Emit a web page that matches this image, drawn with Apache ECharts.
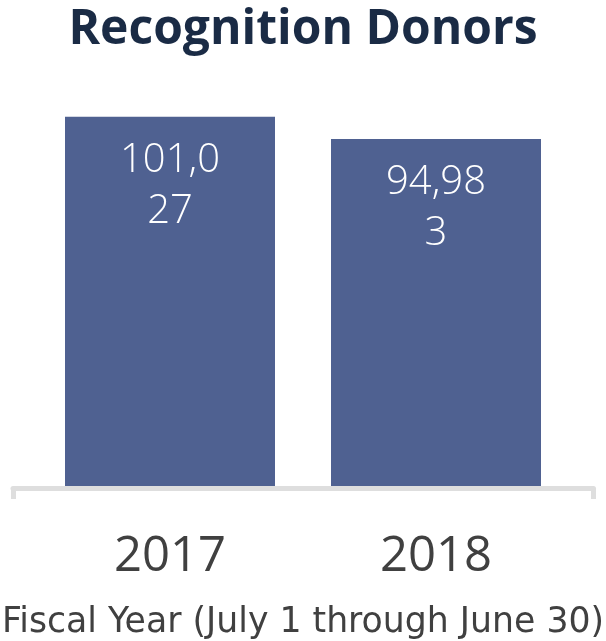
<!DOCTYPE html>
<html>
<head>
<meta charset="utf-8">
<script src="https://cdn.jsdelivr.net/npm/echarts@6/dist/echarts.min.js"></script>
<style>html,body{margin:0;padding:0;background:#fff}#c{width:606px;height:641px}</style>
</head>
<body>
<div id="c"></div>
<script>
var titleText = 'Recognition Donors';
var categories = ['2017', '2018'];
var donors = [101027, 94983];
var axisTitle = 'Fiscal Year (July 1 through June 30)';

var chart = echarts.init(document.getElementById('c'), null, {renderer: 'canvas'});
chart.setOption({
  animation: false,
  backgroundColor: '#ffffff',
  title: {
    text: titleText,
    left: 'center',
    top: 1,
    textStyle: {fontFamily: 'Open Sans', fontWeight: 'bold', fontSize: 48, color: '#1a2b45'}
  },
  grid: [
    {left: 37, right: 37, top: 84, bottom: 155, containLabel: false, outerBoundsMode: 'none'},
    {left: 13, right: 12.5, top: 84, bottom: 153, containLabel: false, outerBoundsMode: 'none'}
  ],
  xAxis: [
    {
      type: 'category', gridIndex: 0, data: categories,
      axisLine: {show: false}, axisTick: {show: false},
      axisLabel: {fontFamily: 'Open Sans', fontSize: 49, color: '#404040', margin: 47},
      name: axisTitle, nameLocation: 'middle', nameGap: 119,
      nameTextStyle: {fontFamily: 'DejaVu Sans', fontSize: 34.7, color: '#404040'}
    },
    {
      type: 'category', gridIndex: 1, data: categories,
      axisLine: {show: true, lineStyle: {color: '#dedede', width: 5}},
      axisTick: {show: true, length: 11, interval: function (i) { return i === 0; }, lineStyle: {color: '#dedede', width: 5}},
      axisLabel: {show: false}
    }
  ],
  yAxis: [
    {type: 'value', gridIndex: 0, min: 0, max: 110000, show: false},
    {type: 'value', gridIndex: 1, min: 0, max: 110000, show: false}
  ],
  series: [{
    type: 'bar', xAxisIndex: 0, yAxisIndex: 0,
    data: donors, barWidth: 210,
    itemStyle: {color: '#4f6191'},
    label: {
      show: true, position: 'insideTop', distance: 18,
      fontFamily: 'Open Sans', fontWeight: 300, fontSize: 40, lineHeight: 51, color: '#ffffff',
      formatter: function (p) {
        var s = p.value.toLocaleString('en-US');
        return s.slice(0, 5) + '\n' + s.slice(5);
      }
    }
  }]
});
</script>
</body>
</html>
